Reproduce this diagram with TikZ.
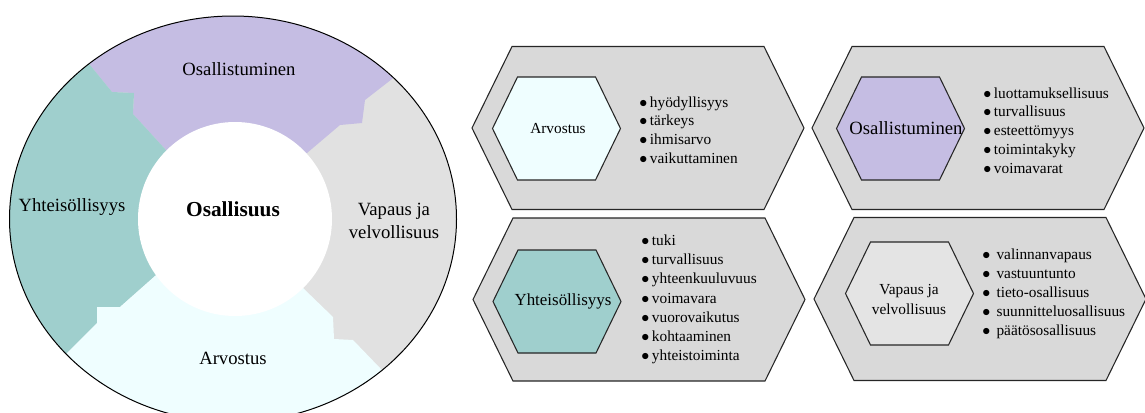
\documentclass[tikz,border=0pt]{standalone}
\usepackage{fontspec}
\setmainfont{Liberation Serif}
\usepackage{tikz}
\definecolor{cOsal}{HTML}{C5BDE3}
\definecolor{cYhte}{HTML}{9FCFCD}
\definecolor{cVapa}{HTML}{E1E1E1}
\definecolor{cArvo}{HTML}{EFFEFF}
\definecolor{cBox}{HTML}{D9D9D9}
\definecolor{cVapin}{HTML}{E4E4E4}
\newcommand{\bul}{$\bullet$\hspace{2pt}}
\newcommand{\bulw}{$\bullet$\hspace{4.7pt}}

\begin{document}
\begin{tikzpicture}[x=0.75pt, y=-0.75pt,
  hexline/.style={draw=black!85, line width=0.8pt},
  ringlabel/.style={font=\fontsize{14}{17.3}\selectfont, align=center, inner sep=0pt},
  hexlabel/.style={align=center, inner sep=0pt},
  items/.style={font=\fontsize{11.5}{14.1}\selectfont, align=left, anchor=west, inner sep=0pt}]
  \useasboundingbox (0,0) rectangle (1145,412);

  % Ring with four sectors
  \begin{scope}
    \clip (233,219) ellipse (223.5 and 203);
    \fill[cVapa] (233,219) ellipse (223.5 and 203);
    \fill[cOsal] (235,219) -- (165,149) -- (133,114) -- (134,93) -- (112,92) -- (90,65) -- (70,40) -- (70,-10)
      -- (430,-10) -- (430,49) -- (392,79) -- (365,100) -- (362,123) -- (340,125) -- (307,153) -- cycle;
    \fill[cYhte] (235,219) -- (165,149) -- (133,114) -- (134,93) -- (112,92) -- (90,65) -- (70,40) -- (-10,40)
      -- (-10,392) -- (28,392) -- (68,352) -- (97,323) -- (97,307) -- (120,307) -- (155,276) -- cycle;
    \fill[cArvo] (235,219) -- (155,276) -- (120,307) -- (97,307) -- (97,323) -- (68,352) -- (28,392) -- (28,440)
      -- (420,440) -- (420,410) -- (380,368) -- (353,340) -- (334,339) -- (333,317) -- (303,288) -- cycle;
  \end{scope}
  \fill[white] (235,219) circle (97);
  \draw[black, line width=0.75pt] (233,219) ellipse (223.5 and 203);

  \node[ringlabel] (osal) at (239,69) {Osallistuminen};
  \node[ringlabel] (yhte) at (72,207) {Yhteisöllisyys};
  \node[ringlabel] (vapa) at (394,220.5) {Vapaus ja\\velvollisuus};
  \node[ringlabel] (arvo) at (233,358) {Arvostus};
  \node[font=\fontsize{16}{19}\selectfont\bfseries, inner sep=0pt] (core) at (233,209) {Osallisuus};

  % Outer boxes
  \foreach \cx/\cy in {638/128, 978/128, 639/299.5, 980/299}
    \draw[hexline, fill=cBox] ({\cx-166},\cy) -- ({\cx-126},{\cy-81.5}) -- ({\cx+126},{\cy-81.5})
      -- ({\cx+166},\cy) -- ({\cx+126},{\cy+81.5}) -- ({\cx-126},{\cy+81.5}) -- cycle;
  % Inner hexagons
  \foreach \cx/\cy/\col in {556.5/128.5/cArvo, 900.5/128.5/cOsal, 557/301.5/cYhte, 909.5/293.5/cVapin}
    \draw[hexline, fill=\col] ({\cx-64},\cy) -- ({\cx-39},{\cy-51.5}) -- ({\cx+39},{\cy-51.5})
      -- ({\cx+64},\cy) -- ({\cx+39},{\cy+51.5}) -- ({\cx-39},{\cy+51.5}) -- cycle;

  \node[hexlabel, font=\fontsize{11.5}{14}\selectfont] (h-arvo) at (558,129) {Arvostus};
  \node[hexlabel, font=\fontsize{14}{17}\selectfont] (h-osal) at (906,128) {Osallistuminen};
  \node[hexlabel, font=\fontsize{12.7}{15}\selectfont] (h-yhte) at (563,301) {Yhteisöllisyys};
  \node[hexlabel, font=\fontsize{11.5}{14.3}\selectfont] (h-vapa) at (909,299.5) {Vapaus ja\\velvollisuus};

  % Bullet lists
  \node[items] (l-arvo) at (639,130) {\bul hyödyllisyys\\\bul tärkeys\\\bul ihmisarvo\\\bul vaikuttaminen};
  \node[items] (l-osal) at (983,130.5) {\bul luottamuksellisuus\\\bul turvallisuus\\\bul esteettömyys\\
    \bul toimintakyky\\\bul voimavarat};
  \node[items, font=\fontsize{11.5}{14.4}\selectfont] (l-yhte) at (641,299.5) {\bul tuki\\\bul turvallisuus\\
    \bul yhteenkuuluvuus\\\bul voimavara\\\bul vuorovaikutus\\\bul kohtaaminen\\\bul yhteistoiminta};
  \node[items, font=\fontsize{11.5}{14.25}\selectfont] (l-vapa) at (982,294) {\bulw valinnanvapaus\\
    \bulw vastuuntunto\\\bulw tieto-osallisuus\\\bulw suunnitteluosallisuus\\\bulw päätösosallisuus};
\end{tikzpicture}
\end{document}
